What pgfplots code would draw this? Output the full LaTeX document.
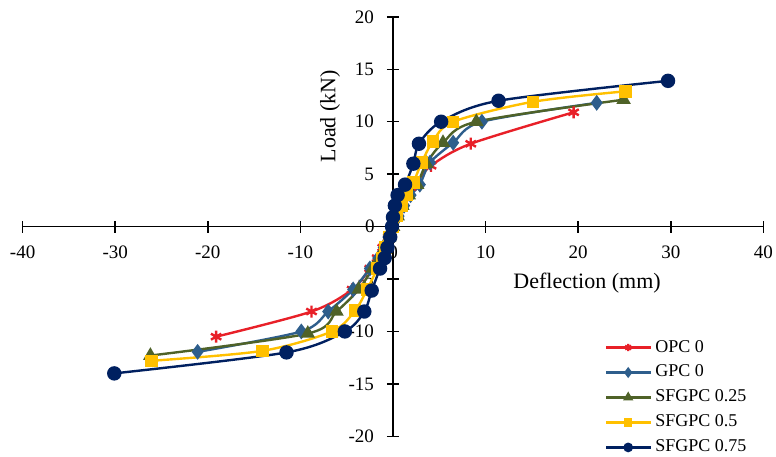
\documentclass[border=0pt]{standalone}
\usepackage{fontspec}
\setmainfont{Liberation Serif}
\usepackage{pgfplots}
\pgfplotsset{compat=1.18}
\definecolor{cOPC}{RGB}{232,32,40}
\definecolor{cGPC}{RGB}{46,94,140}
\definecolor{cG25}{RGB}{79,98,40}
\definecolor{cG50}{RGB}{255,192,0}
\definecolor{cG75}{RGB}{0,32,96}
\begin{document}
\begin{tikzpicture}
\begin{axis}[
  scale only axis, width=370.3pt, height=209.65pt,
  xmin=-40, xmax=40, ymin=-20, ymax=20,
  axis lines=middle,
  axis line style={-, line width=0.75pt, black},
  xtick={-40,-30,...,40}, ytick={-20,-15,...,20},
  yticklabels={-20,-15,-10,-5,,5,10,15,20},
  tick align=center, major tick length=6pt,
  tick style={black, line width=0.75pt},
  hide obscured x ticks=false, hide obscured y ticks=false,
  tick label style={font=\fontsize{9.5}{11}\selectfont},
  xticklabel style={yshift=-3pt},
  yticklabel style={xshift=-3pt},
  /pgf/number format/assume math mode=true,
  xlabel={Deflection (mm)}, ylabel={Load (kN)},
  every axis x label/.style={at={(axis description cs:0.762,0.366)}, anchor=center, font=\fontsize{11}{13}\selectfont},
  every axis y label/.style={at={(axis description cs:0.415,0.763)}, anchor=center, rotate=90, font=\fontsize{11}{13}\selectfont},
  clip=false,
  legend style={at={(axis cs:22.85,-10.4)}, anchor=north west, draw=none, fill=none,
    font=\fontsize{9}{10}\selectfont, row sep=1pt, inner sep=0pt},
  legend cell align=left,
  legend image code/.code={\draw[mark repeat=2,mark phase=2,mark options={scale=0.6,solid}] plot coordinates {(0pt,0pt)(11pt,0pt)(22pt,0pt)};},
  every axis plot/.append style={line width=1.2pt, smooth},
]
\addplot[color=cOPC, mark=asterisk, mark size=3pt] coordinates {
(-19.1,-10.5) (-8.8,-8.1) (-4.4,-6.0) (-2.5,-4.0) (-1.7,-3.0) (-1.1,-2.0) (-0.5,-1.0) (0,0)
(0.5,1.0) (1.0,2.0) (1.6,3.0) (2.4,4.0) (4.1,5.8) (8.4,7.9) (19.5,10.9)};
\addlegendentry{OPC 0}
\addplot[color=cGPC, mark=diamond*, mark size=3pt] coordinates {
(-21.1,-11.95) (-9.9,-10.0) (-7.0,-8.1) (-4.3,-6.0) (-2.5,-4.0) (-1.6,-3.0) (-1.0,-2.0) (-0.5,-1.0) (0,0)
(0.6,1.0) (1.2,2.0) (1.9,3.0) (2.9,4.0) (4.0,6.1) (6.5,8.0) (9.6,10.0) (22.0,11.8)};
\addlegendentry{GPC 0}
\addplot[color=cG25, mark=triangle*, mark size=3pt] coordinates {
(-26.2,-12.3) (-9.2,-10.2) (-6.1,-8.1) (-3.7,-6.0) (-2.2,-4.0) (-1.4,-3.0) (-0.9,-2.0) (-0.4,-1.0) (0,0)
(0.5,1.0) (1.0,2.0) (1.7,3.0) (2.6,4.0) (3.6,6.0) (5.4,8.0) (9.0,10.0) (24.9,12.1)};
\addlegendentry{SFGPC 0.25}
\addplot[color=cG50, mark=square*, mark size=2.5pt] coordinates {
(-26.1,-12.8) (-14.1,-11.85) (-6.6,-10.0) (-4.1,-8.0) (-2.8,-6.0) (-1.7,-4.0) (-1.2,-3.0) (-0.8,-2.0) (-0.4,-1.0) (0,0)
(0.4,1.0) (0.9,2.0) (1.5,3.0) (2.2,4.2) (3.1,6.1) (4.3,8.1) (6.5,10.0) (15.1,11.9) (25.1,12.9)};
\addlegendentry{SFGPC 0.5}
\addplot[color=cG75, mark=*, mark size=3pt] coordinates {
(-30.1,-14.0) (-11.5,-12.0) (-5.2,-10.0) (-3.1,-8.1) (-2.3,-6.1) (-1.4,-4.0) (-0.9,-3.0) (-0.6,-2.0) (-0.3,-1.0) (-0.1,0)
(0.0,0.9) (0.2,2.0) (0.5,3.0) (1.3,4.0) (2.2,6.0) (2.8,7.9) (5.2,10.0) (11.4,12.0) (29.7,13.9)};
\addlegendentry{SFGPC 0.75}
\node[anchor=east, inner sep=0pt, font=\fontsize{9.5}{11}\selectfont] at (axis cs:-1.94,0) {0};
\coordinate (bbA) at (axis cs:-42.44,-21.90);
\coordinate (bbB) at (axis cs:41.36,21.61);
\end{axis}
\pgfresetboundingbox
\path (bbA) rectangle (bbB);
\end{tikzpicture}
\end{document}
